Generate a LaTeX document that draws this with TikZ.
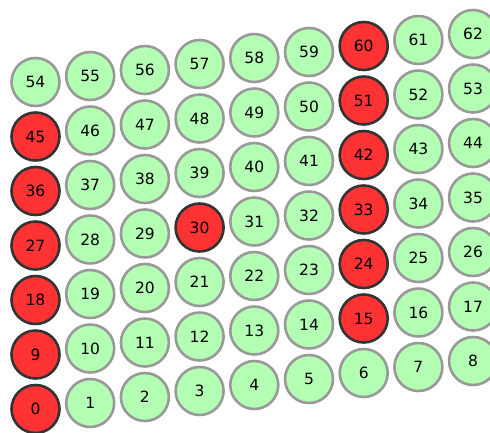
\documentclass[tikz,border=0pt]{standalone}
\usepackage{fontspec}
\setmainfont{DejaVu Sans}
\definecolor{cellgreen}{HTML}{B3FFB3}
\definecolor{cellgray}{HTML}{999999}
\definecolor{cellred}{HTML}{FF3333}
\definecolor{celldark}{HTML}{333333}
\tikzset{
  cell/.style={circle, minimum size=48pt, inner sep=0pt, line width=2.6pt, draw=cellgray, fill=cellgreen, font=\fontsize{15.5}{17}\selectfont},
  hot/.style={draw=celldark, fill=cellred}
}
\begin{document}
\begin{tikzpicture}[x=1pt,y=-1pt]
\useasboundingbox (0,0) rectangle (490,432);
\foreach \r in {0,...,6}{
  \foreach \c in {0,...,8}{
    \pgfmathtruncatemacro{\n}{\r*9+\c}
    \pgfmathsetmacro{\px}{35.5+\c*54.7}
    \pgfmathsetmacro{\py}{409-\c*6-\r*54.5}
    \pgfmathtruncatemacro{\ishot}{((\c==0 && \n!=54) || (\c==6 && \n!=6) || \n==30) ? 1 : 0}
    \ifnum\ishot=1
      \node[cell,hot] (n\n) at (\px,\py) {\n};
    \else
      \node[cell] (n\n) at (\px,\py) {\n};
    \fi
  }
}
\end{tikzpicture}
\end{document}
